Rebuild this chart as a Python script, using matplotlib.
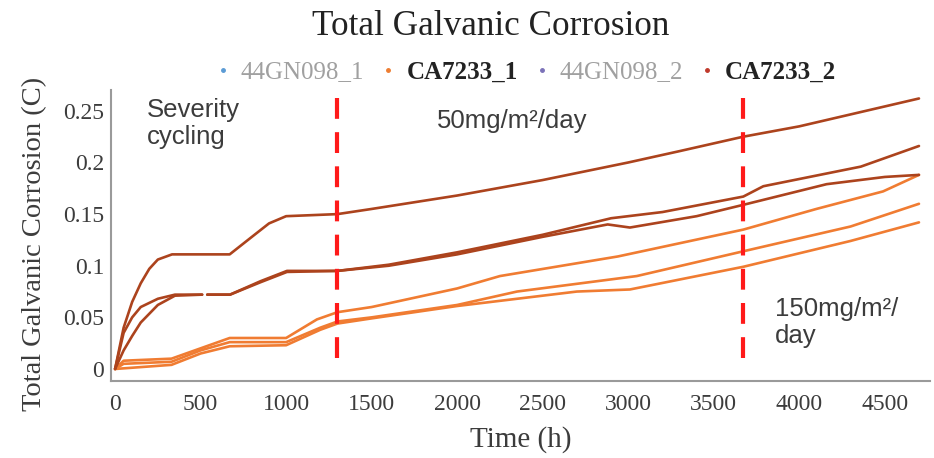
import numpy as np
import matplotlib.pyplot as plt
from matplotlib.lines import Line2D

nan = np.nan

# CA7233_2 specimens (dark)
t_d1 = [0, 50, 100, 150, 200, 250, 333, 670, 800, 900, 1000, 1300, 1500, 2000, 2500, 3000, 3300, 3673, 4000, 4700]
g_d1 = [0, 0.040, 0.065, 0.083, 0.097, 0.106, 0.111, 0.111, 0.128, 0.141, 0.148, 0.150, 0.155, 0.168, 0.183, 0.200, 0.211, 0.225, 0.235, 0.262]

t_d2 = [0, 50, 100, 150, 250, 350, 509, 510, 538, 539, 672, 850, 1005, 1300, 1600, 2000, 2500, 2900, 3200, 3673, 3790, 4360, 4700]
g_d2 = [0, 0.035, 0.050, 0.060, 0.068, 0.072, 0.072, nan, nan, 0.072, 0.072, 0.085, 0.095, 0.095, 0.101, 0.113, 0.130, 0.146, 0.152, 0.167, 0.177, 0.196, 0.216]

t_d3 = [0, 50, 100, 150, 250, 350, 509, 510, 538, 539, 672, 850, 1005, 1300, 1600, 2000, 2500, 2880, 3010, 3400, 3673, 4160, 4500, 4700]
g_d3 = [0, 0.018, 0.032, 0.045, 0.062, 0.071, 0.072, nan, nan, 0.072, 0.072, 0.084, 0.094, 0.095, 0.100, 0.111, 0.128, 0.140, 0.137, 0.148, 0.159, 0.179, 0.186, 0.188]

# CA7233_1 specimens (orange)
t_o1 = [0, 50, 330, 500, 670, 1000, 1180, 1300, 1500, 2000, 2250, 2940, 3673, 4100, 4490, 4700]
g_o1 = [0, 0.008, 0.010, 0.020, 0.030, 0.030, 0.048, 0.055, 0.060, 0.078, 0.090, 0.109, 0.135, 0.155, 0.172, 0.188]

t_o2 = [0, 50, 330, 500, 670, 1000, 1200, 1300, 1500, 2000, 2350, 3050, 3673, 4300, 4700]
g_o2 = [0, 0.005, 0.007, 0.018, 0.026, 0.026, 0.040, 0.046, 0.050, 0.062, 0.075, 0.090, 0.114, 0.138, 0.160]

t_o3 = [0, 330, 500, 670, 1000, 1200, 1300, 1500, 2000, 2700, 3010, 3673, 4300, 4700]
g_o3 = [0, 0.004, 0.015, 0.022, 0.023, 0.038, 0.044, 0.049, 0.061, 0.075, 0.077, 0.099, 0.124, 0.142]

stage_lines = [1300, 3673]
legend_names = ['44GN098_1', 'CA7233_1', '44GN098_2', 'CA7233_2']
legend_colors = ['#5b9bd5', '#ed7d31', '#7b72b8', '#c0392b']

dark = '#ac431d'
orange = '#f07c32'
txtgrey = '#3c3c3c'

fig = plt.figure(figsize=(9.34, 4.58), dpi=100)
ax = fig.add_axes([0.119, 0.168, 0.877, 0.635])

for t, g in [(t_o1, g_o1), (t_o2, g_o2), (t_o3, g_o3)]:
    ax.plot(t, g, color=orange, lw=1.9, solid_capstyle='round')
for t, g in [(t_d1, g_d1), (t_d2, g_d2), (t_d3, g_d3)]:
    ax.plot(t, g, color=dark, lw=1.9, solid_capstyle='round')

# stage change markers
for xv in stage_lines:
    ax.plot([xv, xv], [0.262, 0], color='#ff1a1a', lw=3, dashes=(5, 3.2))

ax.set_xlim(-23, 4766)
ax.set_ylim(-0.0117, 0.27)
ax.set_xticks(np.arange(0, 4501, 500))
ax.set_yticks([0, 0.05, 0.1, 0.15, 0.2, 0.25])
ax.set_yticklabels(['0', '0.05', '0.1', '0.15', '0.2', '0.25'])
ax.tick_params(length=0, labelsize=17, colors=txtgrey)
ax.tick_params(axis='x', pad=9)
ax.tick_params(axis='y', pad=5)
for lab in ax.get_xticklabels() + ax.get_yticklabels():
    lab.set_family('Liberation Serif')
for s in ['top', 'right']:
    ax.spines[s].set_visible(False)
for s in ['left', 'bottom']:
    ax.spines[s].set_color('#9a9a9a')
    ax.spines[s].set_linewidth(1.5)

ax.set_xlabel('Time (h)', family='Liberation Serif', fontsize=21, color=txtgrey)
ax.xaxis.set_label_coords(0.5, -0.155)
ax.set_ylabel('Total Galvanic Corrosion (C)', family='Liberation Serif', fontsize=20.5, color=txtgrey)
ax.yaxis.set_label_coords(-0.078, 0.47)

ax.text(187, 0.262, 'Severity\ncycling', family='Liberation Sans', fontsize=18.5, color=txtgrey,
        va='top', linespacing=1.12)
ax.text(1883, 0.240, '50mg/m²/day', family='Liberation Sans', fontsize=18.5, color=txtgrey, va='center')
ax.text(3860, 0.045, '150mg/m²/\nday', family='Liberation Sans', fontsize=18.5, color=txtgrey,
        va='center', linespacing=1.12)

fig.text(0.525, 0.942, 'Total Galvanic Corrosion', family='Liberation Serif', fontsize=25.3,
         color='#222222', ha='center', va='center')

handles = [Line2D([], [], ls='none', marker='o', ms=2.5, color=c) for c in legend_colors]
leg = fig.legend(handles, legend_names, loc='center', bbox_to_anchor=(0.563, 0.843), ncol=4,
                 frameon=False, handletextpad=0.42, columnspacing=0.66, handlelength=0.6,
                 prop={'family': 'Liberation Serif', 'size': 18})
for i, txt in enumerate(leg.get_texts()):
    if i % 2 == 0:
        txt.set_color('#a0a0a0')
    else:
        txt.set_color('#222222')
        txt.set_fontweight('bold')

fig.savefig('out.png', dpi=100)
